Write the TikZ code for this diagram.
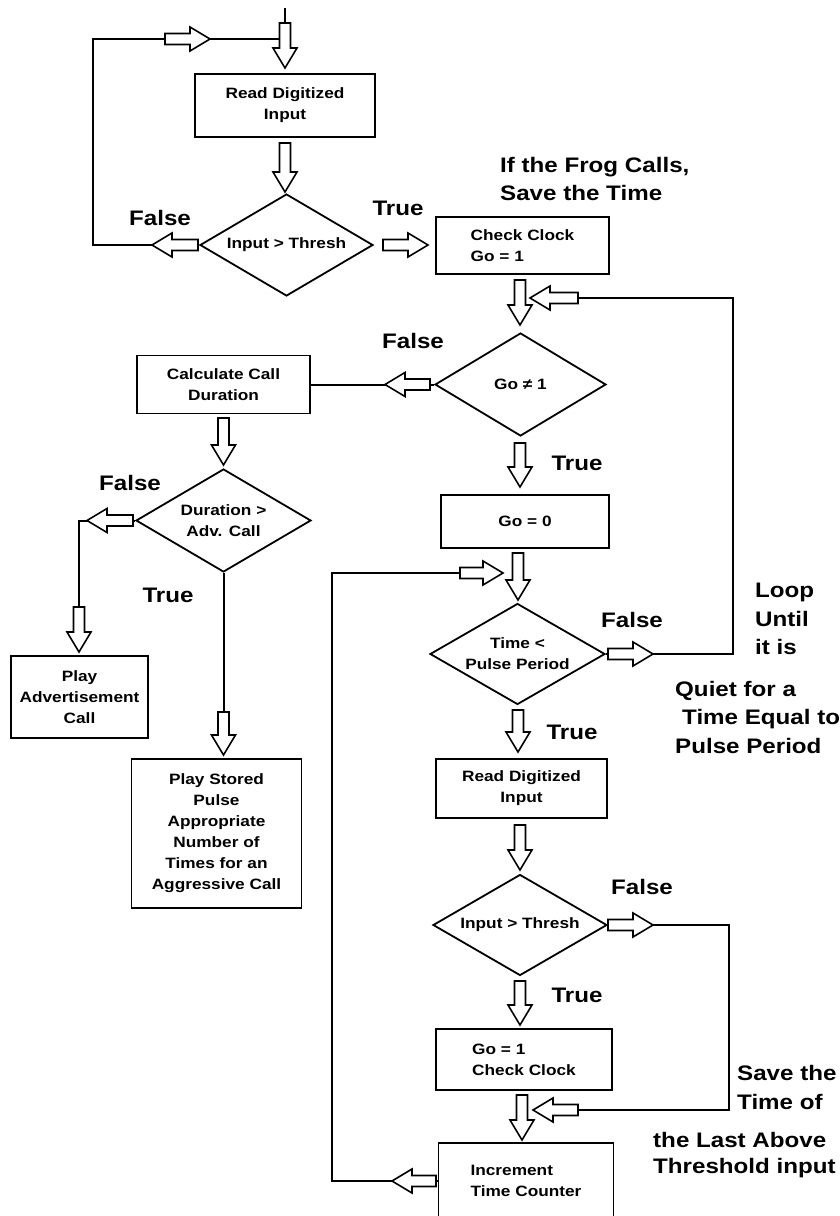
\documentclass[tikz,border=0pt]{standalone}
\usepackage{fontspec}
\setmainfont{Liberation Sans}[FakeStretch=1.15]
\usetikzlibrary{shapes.geometric,calc}
\newcommand\barrow[3]{\draw[barrowline, shift={(#1)}, rotate=#2] (0,0) -- (-20,-12) -- (-20,-5.5) -- (-#3,-5.5) -- (-#3,5.5) -- (-20,5.5) -- (-20,12) -- cycle;}
\begin{document}
\begin{tikzpicture}[x=1pt,y=-1pt,
  box/.style={draw, line width=1.8pt, inner sep=0pt, font=\bfseries\fontsize{15}{21}\selectfont, align=center},
  dia/.style={draw, diamond, aspect=1.7, line width=1.8pt, inner sep=0pt, font=\bfseries\fontsize{15}{21}\selectfont, align=center},
  lbl/.style={inner sep=0pt, font=\bfseries\fontsize{21}{28.5}\selectfont, align=left},
  wire/.style={line width=2pt, line join=miter},
  barrowline/.style={draw, fill=white, line width=1.6pt, line join=miter}]
\useasboundingbox (0,0) rectangle (839,1216);

% ---- nodes
\node[box, minimum width=180pt, minimum height=63pt] (read1) at (285,105.5) {Read Digitized\\Input};
\node[dia, minimum width=173pt, minimum height=102pt] (d1) at (286.5,245) {Input > Thresh};
\node[box, minimum width=173pt, minimum height=57pt, align=left] (check1) at (522.5,245.5) {Check Clock\\Go = 1};
\node[box, minimum width=173pt, minimum height=58pt] (calc) at (223.5,384.5) {Calculate Call\\Duration};
\node[dia, minimum width=171pt, minimum height=103pt] (d2) at (520.5,384.5) {Go ≠ 1};
\node[dia, minimum width=175pt, minimum height=103pt] (d3) at (223.5,520.5) {Duration >\\Adv. Call};
\node[box, minimum width=137pt, minimum height=82pt] (playadv) at (79.5,697) {Play\\Advertisement\\Call};
\node[box, minimum width=170pt, minimum height=149pt] (playstored) at (216.5,833.5) {Play Stored\\Pulse\\Appropriate\\Number of\\Times for an\\Aggressive Call};
\node[box, minimum width=168pt, minimum height=53pt] (go0) at (525,521.5) {Go = 0};
\node[dia, minimum width=175pt, minimum height=101pt] (d4) at (517.5,654) {Time <\\Pulse Period};
\node[box, minimum width=171pt, minimum height=59pt] (read2) at (521.5,788.5) {Read Digitized\\Input};
\node[dia, minimum width=174pt, minimum height=101pt] (d5) at (520,925) {Input > Thresh};
\node[box, minimum width=176pt, minimum height=61pt, align=left] (go1) at (524,1059.5) {Go = 1\\Check Clock};
\node[box, minimum width=175pt, minimum height=76pt, align=left] (incr) at (526,1181) {Increment\\Time Counter};

% ---- labels
\node[lbl] (f1) at (160,218) {False};
\node[lbl] (t1) at (398,208) {True};
\node[lbl, anchor=west] (frog) at (500,179) {If the Frog Calls,\\Save the Time};
\node[lbl] (f2) at (413,341) {False};
\node[lbl] (f3) at (130,483) {False};
\node[lbl] (t3) at (168,595) {True};
\node[lbl] (t2) at (577,463) {True};
\node[lbl] (f4) at (632,620) {False};
\node[lbl, anchor=west] (loop) at (755,619) {Loop\\Until\\it is};
\node[lbl, anchor=west] (quiet) at (675,717) {Quiet for a\\\hspace{7pt}Time Equal to\\Pulse Period};
\node[lbl] (t4) at (572,732) {True};
\node[lbl] (f5) at (642,887) {False};
\node[lbl] (t5) at (577,995) {True};
\node[lbl, anchor=west, font=\bfseries\fontsize{21}{29}\selectfont] (save) at (737,1087.5) {Save the\\Time of};
\node[lbl, anchor=west, font=\bfseries\fontsize{21}{26}\selectfont] (last) at (653,1155) {the Last Above\\Threshold input};

% ---- coordinates for wire corners
\coordinate (top) at (285,8);
\coordinate (lp1) at (93,245);
\coordinate (lp2) at (93,39);
\coordinate (rp1) at (733,298);
\coordinate (rp2) at (733,654);
\coordinate (fa) at (79,520.5);
\coordinate (bl1) at (332,1181);
\coordinate (bl2) at (332,573);
\coordinate (sv1) at (729,925);
\coordinate (sv2) at (729,1110);

% ---- wires
\draw[wire] (top) -- (285,30);
\draw[wire] (d1.west) -- (lp1) -- (lp2) -- (285,39);
\draw[wire] (575,298) -- (rp1) -- (rp2) -- (d4.east);
\draw[wire] (d2.west) -- (calc.east);
\draw[wire] (d3.west) -- (fa) -- (79,612);
\draw[wire] (d3.south) -- (223.5,715);
\draw[wire] (incr.west) -- (bl1) -- (bl2) -- (465,573);
\draw[wire] (d5.east) -- (sv1) -- (sv2) -- (575,1110);

% ---- block arrows
\barrow{285,68}{-90}{45}
\barrow{210,39}{0}{45}
\barrow{285,192}{-90}{49}
\barrow{152,245}{180}{46}
\barrow{428,245}{0}{45}
\barrow{520,325}{-90}{45}
\barrow{530,298}{180}{48}
\barrow{385,384.5}{180}{45}
\barrow{223.5,465}{-90}{47}
\barrow{87,520.5}{180}{46}
\barrow{79,652}{-90}{45}
\barrow{223.5,755}{-90}{43}
\barrow{520,487}{-90}{44}
\barrow{518,600}{-90}{47}
\barrow{503,573}{0}{43}
\barrow{653,654}{0}{45}
\barrow{518,752}{-90}{42}
\barrow{520,870}{-90}{45}
\barrow{653,925}{0}{45}
\barrow{520,1025}{-90}{44}
\barrow{522,1140}{-90}{45}
\barrow{533,1110}{180}{45}
\barrow{392,1181}{180}{44}
\end{tikzpicture}
\end{document}
